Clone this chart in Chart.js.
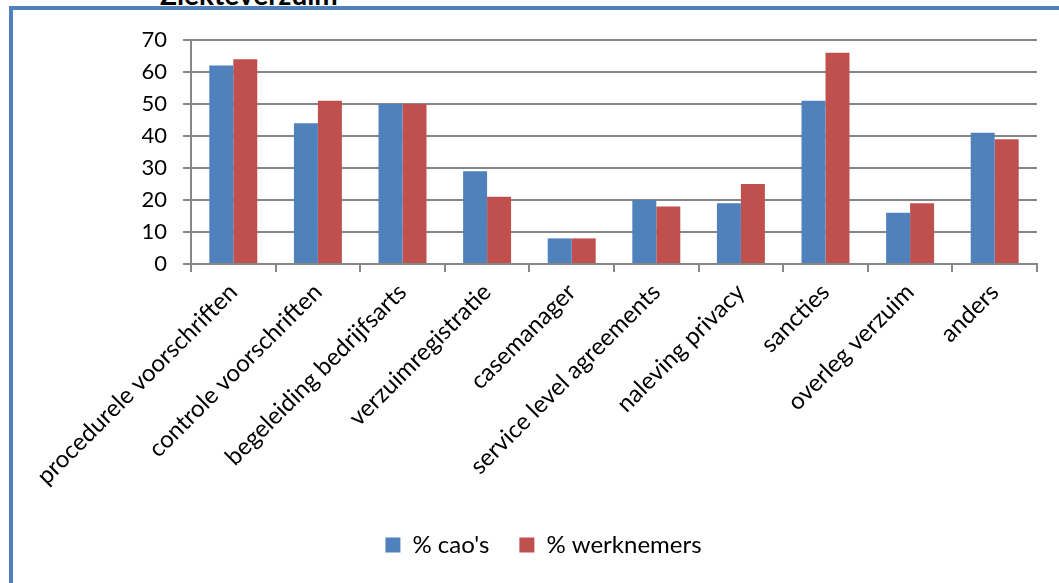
<!DOCTYPE html>
<html>
<head>
<meta charset="utf-8">
<title>Ziekteverzuim</title>
<script src="https://cdn.jsdelivr.net/npm/chart.js@4"></script>
<style>
  html, body { margin: 0; padding: 0; background: #fff; overflow: hidden; }
  #wrap { position: relative; width: 1059px; height: 583px; }
  #frame {
    position: absolute; left: 9px; top: 6px; right: -10px; bottom: -10px;
    border-top: 4px solid #4F81BD; border-left: 4px solid #4F81BD;
  }
  #title {
    position: absolute; left: 160px; top: -23px;
    font: bold 28px Lato, sans-serif; color: #000; white-space: nowrap;
  }
  canvas { position: absolute; left: 0; top: 0; }
</style>
</head>
<body>
<div id="wrap">
  <div id="title">Ziekteverzuim</div>
  <div id="frame"></div>
  <canvas id="chart" width="1059" height="583"></canvas>
</div>
<script>
// onderwerpen en percentages
const categories = [
  "procedurele voorschriften",
  "controle voorschriften",
  "begeleiding bedrijfsarts",
  "verzuimregistratie",
  "casemanager",
  "service level agreements",
  "naleving privacy",
  "sancties",
  "overleg verzuim",
  "anders"
];
const caoValues = [62, 44, 50, 29, 8, 20, 19, 51, 16, 41];
const werknemerValues = [64, 51, 50, 21, 8, 18, 25, 66, 19, 39];
const yTicks = [0, 10, 20, 30, 40, 50, 60, 70];

const FONT = "Lato, sans-serif";
const GRID = "#868686";

new Chart(document.getElementById("chart"), {
  type: "bar",
  data: {
    labels: categories,
    datasets: [
      {
        label: "% cao's",
        data: caoValues,
        backgroundColor: "#4F81BD",
        categoryPercentage: 0.567,
        barPercentage: 1
      },
      {
        label: "% werknemers",
        data: werknemerValues,
        backgroundColor: "#C0504D",
        categoryPercentage: 0.567,
        barPercentage: 1
      }
    ]
  },
  options: {
    responsive: false,
    animation: false,
    layout: { padding: { top: 40, left: 50, right: 22, bottom: 16 } },
    plugins: {
      tooltip: { enabled: false },
      legend: {
        position: "bottom",
        labels: {
          color: "#000",
          font: { family: FONT, size: 24 },
          boxWidth: 15,
          boxHeight: 15,
          padding: 30
        }
      }
    },
    scales: {
      x: {
        offset: true,
        grid: {
          offset: true,
          drawOnChartArea: false,
          color: GRID,
          lineWidth: 2,
          tickLength: 8
        },
        border: { color: GRID, width: 2 },
        ticks: {
          color: "#000",
          font: { family: FONT, size: 24 },
          minRotation: 45,
          maxRotation: 45,
          padding: 6,
          autoSkip: false
        },
        afterFit: (scale) => { scale.height = 239; }
      },
      y: {
        min: 0,
        max: 70,
        afterBuildTicks: (scale) => { scale.ticks = yTicks.map(v => ({ value: v })); },
        grid: { color: GRID, lineWidth: 2, tickLength: 8 },
        border: { color: GRID, width: 2 },
        ticks: {
          color: "#000",
          font: { family: FONT, size: 22 },
          padding: 16
        },
        afterFit: (scale) => { scale.width = 141; }
      }
    }
  }
});
</script>
</body>
</html>
